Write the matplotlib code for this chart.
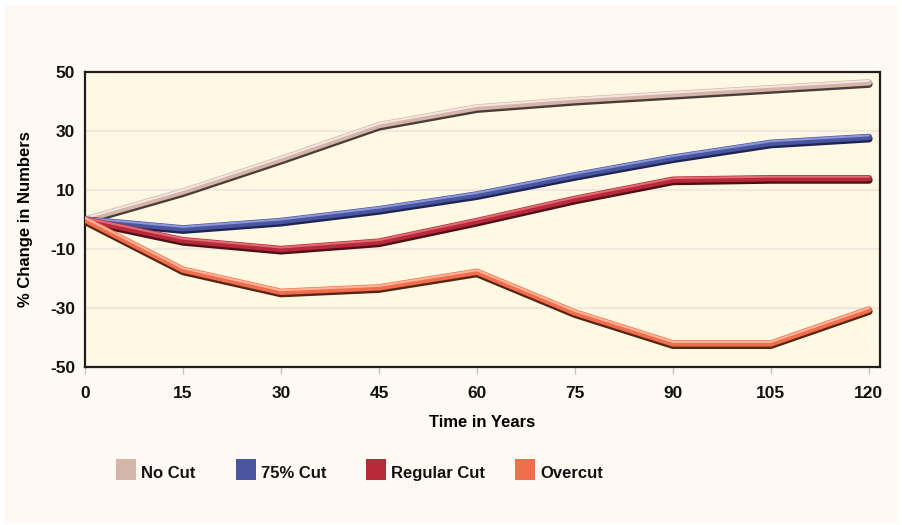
import numpy as np
import matplotlib
matplotlib.use("Agg")
import matplotlib.pyplot as plt
import matplotlib.patheffects as pe
from matplotlib.patches import Rectangle

# -- data: % change in numbers over time for each cutting regime
years = [0, 15, 30, 45, 60, 75, 90, 105, 120]
no_cut = [0, 9.5, 20.5, 32, 38, 40.5, 42.5, 44.5, 46.5]
cut_75 = [0, -3, -0.5, 3.5, 8.5, 15, 21, 26, 28]
regular_cut = [0, -7, -10, -7.5, -0.5, 7, 13.5, 14, 14]
overcut = [0, -17, -24.5, -23, -17.7, -31.5, -42, -42, -30.5]

series = [
    ("No Cut", no_cut, "#D4B5A8", "#4a3d38", "#f3e6e0"),
    ("75% Cut", cut_75, "#4A55A0", "#1e2456", "#8d96d6"),
    ("Regular Cut", regular_cut, "#B8293A", "#4e0f18", "#e06a76"),
    ("Overcut", overcut, "#F06E4C", "#5a2414", "#ffb49a"),
]

yticks = [-50, -30, -10, 10, 30, 50]
xticks = years

plt.rcParams["axes.unicode_minus"] = False
font = ["Liberation Sans", "DejaVu Sans"]

fig = plt.figure(figsize=(9.03, 5.25), dpi=100)
fig.patch.set_facecolor("white")
fig.add_artist(Rectangle((5 / 903, 2 / 525), 893 / 903, 518 / 525,
                         transform=fig.transFigure, facecolor="#FEF9F2",
                         edgecolor="none", zorder=0))

ax = fig.add_axes([85 / 903, 1 - 367 / 525, 795 / 903, 295 / 525])
ax.set_facecolor("#FFF8E2")

for y in [-30, -10, 10, 30]:
    ax.axhline(y, color="#EFE9DF", lw=1.6, zorder=1)

for name, vals, col, dark, light in series:
    ax.plot(years, vals, color=col, lw=4.6, solid_capstyle="round",
            solid_joinstyle="round", zorder=3,
            path_effects=[
                pe.Stroke(linewidth=5.4, foreground=dark, offset=(0, -1.3)),
                pe.Stroke(linewidth=4.6, foreground=col),
                pe.Stroke(linewidth=1.5, foreground=light, offset=(0, 1.1)),
            ])

ax.set_xlim(0, 121.7)
ax.set_ylim(-50, 50)
ax.set_xticks(xticks)
ax.set_yticks(yticks)
ax.tick_params(axis="x", length=5, width=1, color="#c8c4c0", pad=9)
ax.tick_params(axis="y", length=0, pad=7)
for lab in ax.get_xticklabels() + ax.get_yticklabels():
    lab.set_fontfamily(font)
    lab.set_fontweight("bold")
    lab.set_fontsize(12.5)
    lab.set_color("#111111")

for s in ax.spines.values():
    s.set_color("#1e1e1e")
    s.set_linewidth(1.6)

ax.set_xlabel("Time in Years", fontfamily=font, fontweight="bold",
              fontsize=12, labelpad=10)
ax.set_ylabel("% Change in Numbers", fontfamily=font, fontweight="bold",
              fontsize=12, labelpad=12)

# -- legend row under the axis
patch_x = [116, 236, 366, 515]
for (name, vals, col, dark, light), px in zip(series, patch_x):
    fig.add_artist(Rectangle((px / 903, 1 - 480 / 525), 20 / 903, 21 / 525,
                             transform=fig.transFigure, facecolor=col,
                             edgecolor="none"))
    fig.text((px + 25) / 903, 1 - 478 / 525, name, fontfamily=font,
             fontweight="bold", fontsize=12, va="baseline", ha="left",
             color="#111111")

fig.savefig("out.png", dpi=100, facecolor=fig.get_facecolor())
